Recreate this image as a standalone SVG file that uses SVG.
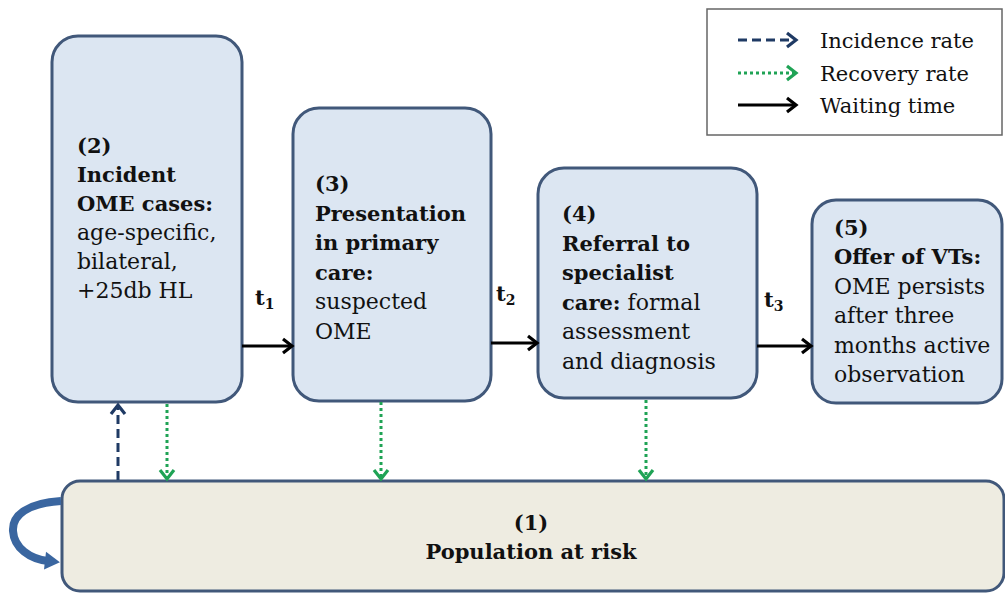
<svg xmlns="http://www.w3.org/2000/svg" width="1005" height="594" viewBox="0 0 1005 594">
<defs>
<style>
.box{fill:#dce6f2;stroke:#41587a;stroke-width:3}
.pop{fill:#eeece1;stroke:#41587a;stroke-width:3}
.t{font-family:"DejaVu Serif","Liberation Serif",serif;font-size:21px;fill:#111}
.r{font-size:22px}
.b{font-weight:bold}
.wait{stroke:#000;stroke-width:3;fill:none}
.inc{stroke:#1f3a64;stroke-width:3;stroke-dasharray:9 5;fill:none}
.rec{stroke:#1fa355;stroke-width:3;stroke-dasharray:3 3;fill:none}
</style>
<marker id="mw" markerUnits="userSpaceOnUse" markerWidth="20" markerHeight="20" refX="0" refY="0" viewBox="-10 -10 20 20" orient="auto" overflow="visible">
<path d="M-8,-7 L1,0 L-8,7" fill="none" stroke="#000" stroke-width="3.2"/>
</marker>
<marker id="mi" markerUnits="userSpaceOnUse" markerWidth="20" markerHeight="20" refX="0" refY="0" viewBox="-10 -10 20 20" orient="auto" overflow="visible">
<path d="M-8,-7 L1,0 L-8,7" fill="none" stroke="#1f3a64" stroke-width="3.2"/>
</marker>
<marker id="mr" markerUnits="userSpaceOnUse" markerWidth="20" markerHeight="20" refX="0" refY="0" viewBox="-10 -10 20 20" orient="auto" overflow="visible">
<path d="M-8,-7 L1,0 L-8,7" fill="none" stroke="#1fa355" stroke-width="3.2"/>
</marker>
<marker id="ml" markerUnits="userSpaceOnUse" markerWidth="20" markerHeight="20" refX="0" refY="0" viewBox="-10 -10 20 20" orient="auto" overflow="visible">
<path d="M-3,-9 L12,0 L-3,9 Z" fill="#3a66a0"/>
</marker>
</defs>
<rect width="1005" height="594" fill="#fff"/>

<g id="legend">
<rect x="707" y="9" width="295" height="126" fill="#fff" stroke="#666" stroke-width="1.5"/>
<line x1="738" y1="40" x2="795" y2="40" class="inc" marker-end="url(#mi)"/>
<line x1="738" y1="73" x2="795" y2="73" class="rec" marker-end="url(#mr)"/>
<line x1="738" y1="105" x2="795" y2="105" class="wait" marker-end="url(#mw)"/>
<text class="t" x="820" y="48">Incidence rate</text>
<text class="t" x="820" y="81">Recovery rate</text>
<text class="t" x="820" y="113">Waiting time</text>
</g>

<g id="node1">
<rect class="pop" x="62" y="481" width="942" height="110" rx="18"/>
<text class="t b" x="531" y="530" text-anchor="middle">(1)</text>
<text class="t b" x="531" y="559" text-anchor="middle">Population at risk</text>
</g>

<g id="node2">
<rect class="box" x="52" y="36" width="190" height="366" rx="26"/>
<text class="t" x="77" y="153"><tspan class="b">(2)</tspan><tspan class="b" x="77" dy="29">Incident</tspan><tspan class="b" x="77" dy="29">OME cases:</tspan><tspan class="r" x="77" dy="29">age-specific,</tspan><tspan class="r" x="77" dy="29">bilateral,</tspan><tspan class="r" x="77" dy="29">+25db HL</tspan></text>
</g>

<g id="node3">
<rect class="box" x="293" y="108" width="198" height="293" rx="26"/>
<text class="t" x="315" y="191"><tspan class="b">(3)</tspan><tspan class="b" x="315" dy="29.5">Presentation</tspan><tspan class="b" x="315" dy="29.5">in primary</tspan><tspan class="b" x="315" dy="29.5">care:</tspan><tspan class="r" x="315" dy="29.5">suspected</tspan><tspan class="r" x="315" dy="29.5">OME</tspan></text>
</g>

<g id="node4">
<rect class="box" x="538" y="168" width="219" height="230" rx="26"/>
<text class="t" x="562" y="221"><tspan class="b">(4)</tspan><tspan class="b" x="562" dy="29.5">Referral to</tspan><tspan class="b" x="562" dy="29.5">specialist</tspan><tspan x="562" dy="29.5"><tspan class="b">care:</tspan><tspan class="r"> formal</tspan></tspan><tspan class="r" x="562" dy="29.5">assessment</tspan><tspan class="r" x="562" dy="29.5">and diagnosis</tspan></text>
</g>

<g id="node5">
<rect class="box" x="812" y="200" width="190" height="203" rx="24"/>
<text class="t" x="834" y="235"><tspan class="b">(5)</tspan><tspan class="b" x="834" dy="29.4">Offer of VTs:</tspan><tspan class="r" x="834" dy="29.4">OME persists</tspan><tspan class="r" x="834" dy="29.4">after three</tspan><tspan class="r" x="834" dy="29.4">months active</tspan><tspan class="r" x="834" dy="29.4">observation</tspan></text>
</g>

<g id="connectors">
<line x1="242" y1="346" x2="291" y2="346" class="wait" marker-end="url(#mw)"/>
<line x1="491" y1="343" x2="536" y2="343" class="wait" marker-end="url(#mw)"/>
<line x1="757" y1="346" x2="810" y2="346" class="wait" marker-end="url(#mw)"/>
<text class="t b" x="255" y="305">t<tspan font-size="14" dy="4">1</tspan></text>
<text class="t b" x="496" y="301">t<tspan font-size="14" dy="4">2</tspan></text>
<text class="t b" x="764" y="307">t<tspan font-size="14" dy="4">3</tspan></text>
<line x1="118" y1="480" x2="118" y2="406" class="inc" marker-end="url(#mi)"/>
<line x1="167" y1="404" x2="167" y2="478" class="rec" marker-end="url(#mr)"/>
<line x1="381" y1="402" x2="381" y2="478" class="rec" marker-end="url(#mr)"/>
<line x1="646" y1="400" x2="646" y2="478" class="rec" marker-end="url(#mr)"/>
<path d="M61,501 C28,503 12,515 13,531 C14,548 30,559 48,561" fill="none" stroke="#3a66a0" stroke-width="8" stroke-linecap="butt" marker-end="url(#ml)"/>
</g>
</svg>
